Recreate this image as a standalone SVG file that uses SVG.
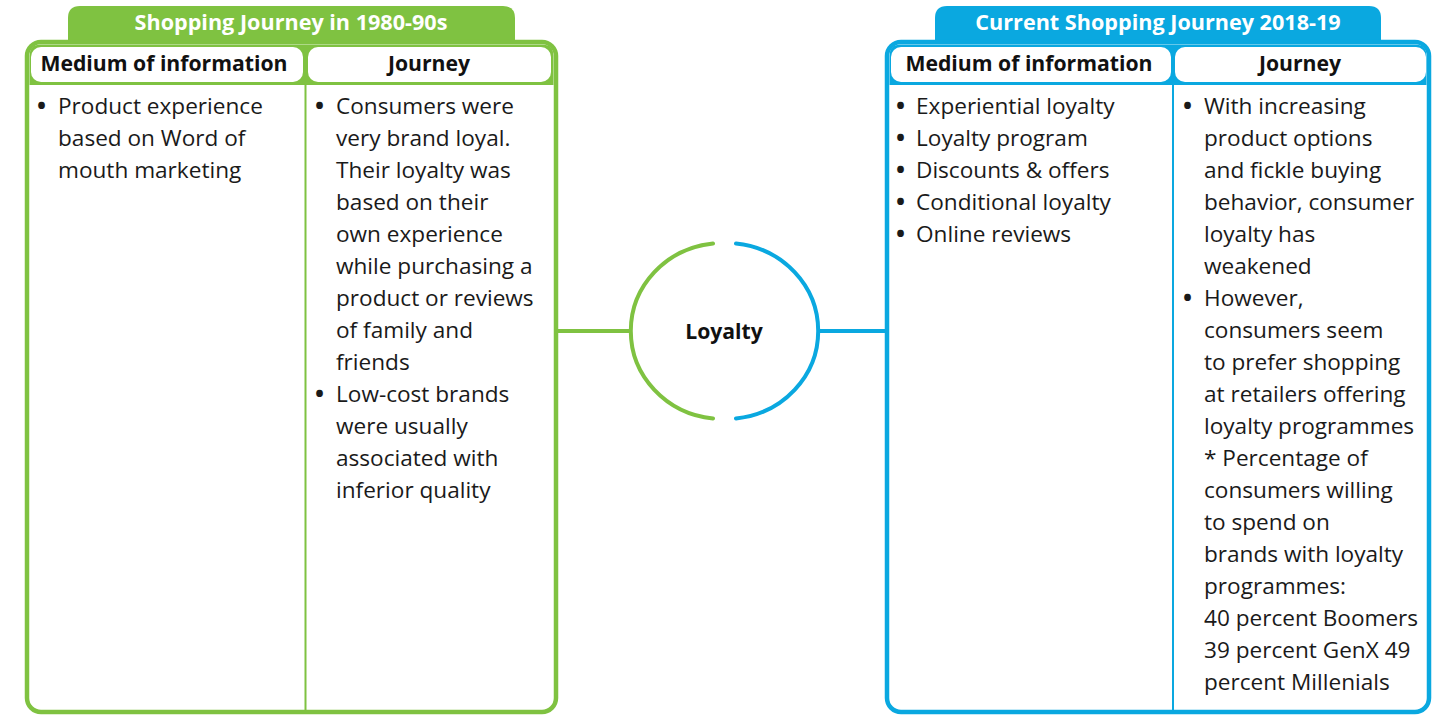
<svg xmlns="http://www.w3.org/2000/svg" width="1449" height="715" viewBox="0 0 1449 715">
<style>
.g{stroke:#7fc241}
.b{stroke:#0aa8e0}
.gf{fill:#7fc241}
.bf{fill:#0aa8e0}
.frame{fill:#fff;stroke-width:4.5}
.cell{fill:#fff}
.div{stroke-width:2}
.tab{font-family:"Open Sans","Liberation Sans",sans-serif;font-weight:bold;font-size:21.6px;fill:#fff;text-anchor:middle}
.hd{font-family:"Open Sans","Liberation Sans",sans-serif;font-weight:bold;font-size:21.2px;fill:#111;text-anchor:middle}
.tx{font-family:"Open Sans","Liberation Sans",sans-serif;font-size:22.6px;fill:#1a1a1a}
.bu{font-weight:bold;font-size:24px}
.conn{fill:none;stroke-width:4;stroke-linecap:round}
</style>
<g id="panel-1980s">
  <path class="gf" d="M68 42 V18 Q68 6 80 6 H503 Q515 6 515 18 V42 Z"/>
  <text class="tab" x="291" y="30">Shopping Journey in 1980-90s</text>
  <rect class="frame g" x="27" y="42" width="529" height="670" rx="14"/>
  <path class="gf" d="M29.5 85 V56 Q29.5 44.5 41 44.5 H542 Q553.5 44.5 553.5 56 V85 Z"/>
  <rect class="cell" x="31" y="47" width="272" height="35" rx="10"/>
  <rect class="cell" x="308" y="47" width="243" height="35" rx="10"/>
  <line class="g div" x1="305.5" y1="84" x2="305.5" y2="710"/>
  <text class="hd" x="164" y="71">Medium of information</text>
  <text class="hd" x="429" y="71">Journey</text>
  <text class="tx"><tspan class="bu" x="37" y="114">•</tspan><tspan x="58" y="114">Product experience</tspan><tspan x="58" y="146">based on Word of</tspan><tspan x="58" y="178">mouth marketing</tspan></text>
  <text class="tx"><tspan class="bu" x="315" y="114">•</tspan><tspan x="336" y="114">Consumers were</tspan><tspan x="336" y="146">very brand loyal.</tspan><tspan x="336" y="178">Their loyalty was</tspan><tspan x="336" y="210">based on their</tspan><tspan x="336" y="242">own experience</tspan><tspan x="336" y="274">while purchasing a</tspan><tspan x="336" y="306">product or reviews</tspan><tspan x="336" y="338">of family and</tspan><tspan x="336" y="370">friends</tspan><tspan class="bu" x="315" y="402">•</tspan><tspan x="336" y="402">Low-cost brands</tspan><tspan x="336" y="434">were usually</tspan><tspan x="336" y="466">associated with</tspan><tspan x="336" y="498">inferior quality</tspan></text>
</g>
<g id="panel-current">
  <path class="bf" d="M935 42 V18 Q935 6 947 6 H1369 Q1381 6 1381 18 V42 Z"/>
  <text class="tab" x="1158" y="30">Current Shopping Journey 2018-19</text>
  <rect class="frame b" x="887" y="42" width="542" height="670" rx="14"/>
  <path class="bf" d="M889.5 85 V56 Q889.5 44.5 901 44.5 H1415 Q1426.5 44.5 1426.5 56 V85 Z"/>
  <rect class="cell" x="891" y="47" width="280" height="35" rx="10"/>
  <rect class="cell" x="1175" y="47" width="251" height="35" rx="10"/>
  <line class="b div" x1="1173" y1="84" x2="1173" y2="710"/>
  <text class="hd" x="1029" y="71">Medium of information</text>
  <text class="hd" x="1300" y="71">Journey</text>
  <text class="tx"><tspan class="bu" x="896" y="114">•</tspan><tspan x="916" y="114">Experiential loyalty</tspan><tspan class="bu" x="896" y="146">•</tspan><tspan x="916" y="146">Loyalty program</tspan><tspan class="bu" x="896" y="178">•</tspan><tspan x="916" y="178">Discounts &amp; offers</tspan><tspan class="bu" x="896" y="210">•</tspan><tspan x="916" y="210">Conditional loyalty</tspan><tspan class="bu" x="896" y="242">•</tspan><tspan x="916" y="242">Online reviews</tspan></text>
  <text class="tx"><tspan class="bu" x="1183" y="114">•</tspan><tspan x="1204" y="114">With increasing</tspan><tspan x="1204" y="146">product options</tspan><tspan x="1204" y="178">and fickle buying</tspan><tspan x="1204" y="210">behavior, consumer</tspan><tspan x="1204" y="242">loyalty has</tspan><tspan x="1204" y="274">weakened</tspan><tspan class="bu" x="1183" y="306">•</tspan><tspan x="1204" y="306">However,</tspan><tspan x="1204" y="338">consumers seem</tspan><tspan x="1204" y="370">to prefer shopping</tspan><tspan x="1204" y="402">at retailers offering</tspan><tspan x="1204" y="434">loyalty programmes</tspan><tspan x="1204" y="466">* Percentage of</tspan><tspan x="1204" y="498">consumers willing</tspan><tspan x="1204" y="530">to spend on</tspan><tspan x="1204" y="562">brands with loyalty</tspan><tspan x="1204" y="594">programmes:</tspan><tspan x="1204" y="626">40 percent Boomers</tspan><tspan x="1204" y="658">39 percent GenX 49</tspan><tspan x="1204" y="690">percent Millenials</tspan></text>
</g>
<g id="loyalty">
  <path class="conn g" d="M713 243.5 A92 88 0 0 0 713 418.5"/>
  <path class="conn b" d="M736 243.5 A92 88 0 0 1 736 418.5"/>
  <text class="hd" x="724" y="339">Loyalty</text>
</g>
<g id="connectors">
  <line class="g" stroke-width="4" x1="557" y1="331" x2="632" y2="331"/>
  <line class="b" stroke-width="4" x1="818" y1="331" x2="886" y2="331"/>
</g>
</svg>
